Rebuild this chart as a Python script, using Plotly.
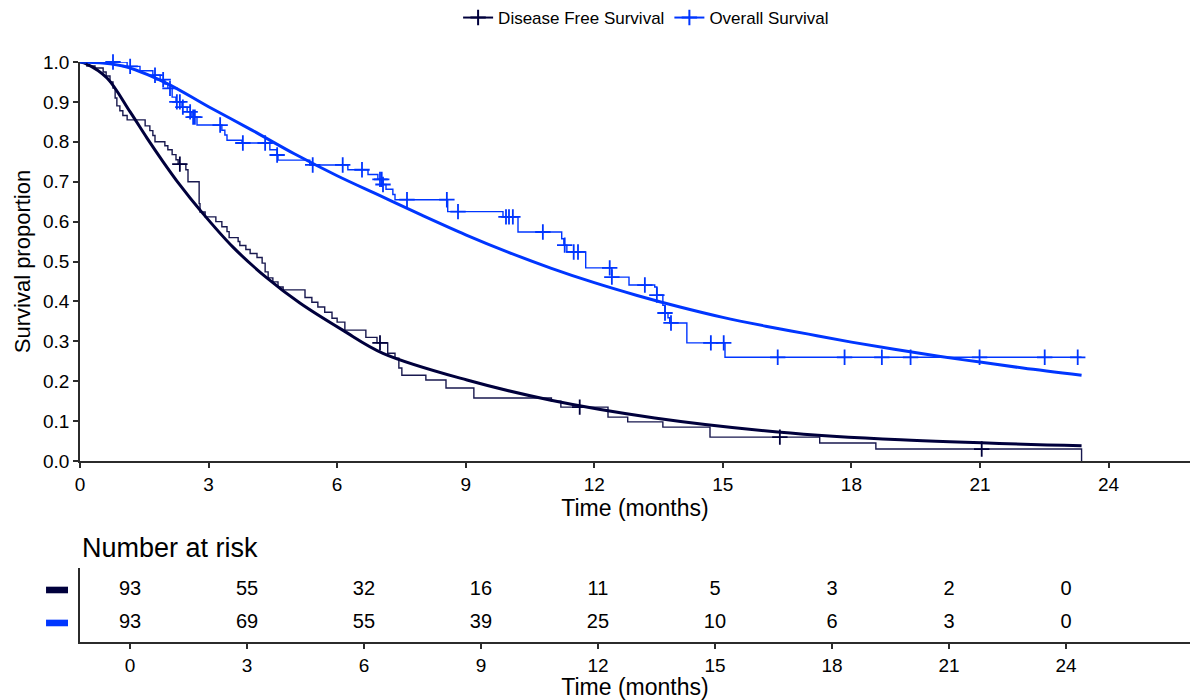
import numpy as np
import plotly.graph_objects as go

# ---------------- data ----------------
dfs_times = [0, 0.16, 0.35, 0.54, 0.61, 0.70, 0.77, 0.82, 0.86, 0.93, 1.00, 1.10,
             1.52, 1.63, 1.70, 1.75, 1.98, 2.05, 2.15, 2.24, 2.29, 2.47, 2.52,
             2.78, 2.80, 2.92, 3.17, 3.31, 3.43, 3.48, 3.69, 3.73, 3.87, 3.97,
             4.13, 4.25, 4.32, 4.39, 4.50, 4.62, 4.74, 5.25, 5.41, 5.55, 5.71,
             5.88, 6.00, 6.18, 6.67, 6.93, 7.18, 7.35, 7.44, 7.51, 8.07, 8.54,
             9.19, 11.00, 11.22, 12.32, 12.78, 13.60, 14.70, 17.26, 18.57, 23.37]
dfs_surv = [1.0, 0.99, 0.985, 0.975, 0.965, 0.95, 0.935, 0.91, 0.89, 0.878, 0.866, 0.855,
            0.84, 0.828, 0.816, 0.80, 0.79, 0.78, 0.768, 0.755, 0.744, 0.73, 0.70,
            0.645, 0.624, 0.612, 0.60, 0.587, 0.575, 0.56, 0.55, 0.54, 0.53, 0.52,
            0.51, 0.496, 0.474, 0.459, 0.449, 0.436, 0.429, 0.41, 0.398, 0.386, 0.373,
            0.358, 0.348, 0.328, 0.31, 0.296, 0.27, 0.258, 0.233, 0.215, 0.203, 0.183,
            0.158, 0.15, 0.135, 0.11, 0.098, 0.085, 0.06, 0.045, 0.03, 0.0]
dfs_censor = [2.33, 7.00, 11.66, 16.33, 21.04]

os_times = [0, 1.10, 1.40, 1.70, 1.87, 1.98, 2.05, 2.15, 2.24, 2.38, 2.50, 2.61, 2.73,
            3.31, 3.38, 3.43, 3.78, 4.43, 4.60, 4.62, 5.36, 6.25, 6.72, 6.95, 7.07,
            7.14, 7.30, 7.35, 8.58, 9.87, 10.22, 11.24, 11.29, 11.36, 11.80, 12.41,
            12.81, 13.41, 13.46, 13.60, 13.65, 13.72, 13.76, 14.16, 15.05, 23.37]
os_surv = [1.0, 0.989, 0.978, 0.967, 0.956, 0.945, 0.934, 0.912, 0.90, 0.887, 0.875, 0.862, 0.842,
           0.829, 0.817, 0.804, 0.797, 0.78, 0.767, 0.754, 0.742, 0.730, 0.718, 0.706, 0.693,
           0.681, 0.668, 0.655, 0.625, 0.612, 0.574, 0.557, 0.541, 0.524, 0.484, 0.461,
           0.441, 0.436, 0.416, 0.39, 0.371, 0.359, 0.346, 0.296, 0.26, 0.26]
os_censor = [0.77, 1.17, 1.75, 1.94, 2.10, 2.26, 2.33, 2.40, 2.57, 2.64, 2.68, 3.27, 3.80,
             4.32, 4.60, 5.43, 6.13, 6.58, 7.00, 7.04, 7.07, 7.63, 8.56, 8.82, 9.94, 10.01,
             10.10, 10.80, 11.31, 11.52, 11.62, 12.36, 12.41, 13.18, 13.46, 13.65, 13.79,
             14.72, 15.02, 16.28, 17.84, 18.71, 19.38, 20.99, 22.51, 23.28]

dfs_fit_t = [0, 0.16, 0.63, 1.17, 1.56, 1.94, 2.33, 2.80, 3.57, 4.36, 5.13, 6.13, 7.07,
             9.03, 10.96, 13.41, 16.28, 19.15, 23.37]
dfs_fit_s = [1.0, 0.995, 0.96, 0.875, 0.81, 0.75, 0.692, 0.629, 0.536, 0.459, 0.396, 0.328,
             0.27, 0.203, 0.153, 0.108, 0.073, 0.053, 0.038]

os_fit_t = [0, 1, 2, 3, 4, 5, 6, 7, 8, 9, 10, 11, 12, 13, 14, 15, 16, 17, 18, 19, 20,
            21, 22, 23.37]
os_fit_s = [1.0, 0.99, 0.948, 0.888, 0.83, 0.77, 0.715, 0.665, 0.615, 0.567, 0.523, 0.483,
            0.447, 0.415, 0.386, 0.36, 0.338, 0.318, 0.298, 0.28, 0.263, 0.248, 0.233, 0.215]

risk_times = [0, 3, 6, 9, 12, 15, 18, 21, 24]
risk_dfs = [93, 55, 32, 16, 11, 5, 3, 2, 0]
risk_os = [93, 69, 55, 39, 25, 10, 6, 3, 0]

x_ticks = [0, 3, 6, 9, 12, 15, 18, 21, 24]
y_ticks = [0.0, 0.1, 0.2, 0.3, 0.4, 0.5, 0.6, 0.7, 0.8, 0.9, 1.0]

# ---------------- styling ----------------
DFS_COL = "#00003c"
OS_COL = "#0036ff"
AX_COL = "#2b2b2b"
FONT = "Liberation Sans, Arial, sans-serif"


def censor_y(times, surv, cens):
    t = np.asarray(times)
    s = np.asarray(surv)
    idx = np.searchsorted(t, np.asarray(cens), side="right") - 1
    return s[idx]


fig = go.Figure()

# fitted curves
fig.add_trace(go.Scatter(x=dfs_fit_t, y=dfs_fit_s, mode="lines",
                         line=dict(color=DFS_COL, width=3, shape="spline"),
                         showlegend=False, cliponaxis=False))
fig.add_trace(go.Scatter(x=os_fit_t, y=os_fit_s, mode="lines",
                         line=dict(color=OS_COL, width=3, shape="spline"),
                         showlegend=False, cliponaxis=False))

# KM step curves
fig.add_trace(go.Scatter(x=dfs_times, y=dfs_surv, mode="lines",
                         line=dict(color=DFS_COL, width=1.4, shape="hv"),
                         opacity=0.9, showlegend=False, cliponaxis=False))
fig.add_trace(go.Scatter(x=os_times, y=os_surv, mode="lines",
                         line=dict(color=OS_COL, width=1.4, shape="hv"),
                         showlegend=False, cliponaxis=False))

# censor marks
fig.add_trace(go.Scatter(x=dfs_censor, y=censor_y(dfs_times, dfs_surv, dfs_censor),
                         mode="markers",
                         marker=dict(symbol="cross-thin", size=11,
                                     line=dict(color=DFS_COL, width=1.8)),
                         showlegend=False, cliponaxis=False))
fig.add_trace(go.Scatter(x=os_censor, y=censor_y(os_times, os_surv, os_censor),
                         mode="markers",
                         marker=dict(symbol="cross-thin", size=11,
                                     line=dict(color=OS_COL, width=1.8)),
                         showlegend=False, cliponaxis=False))

# legend entries
for name, col in [("Disease Free Survival", DFS_COL), ("Overall Survival", OS_COL)]:
    fig.add_trace(go.Scatter(x=[None], y=[None], mode="lines+markers", name=name,
                             line=dict(color=col, width=2),
                             marker=dict(symbol="cross-thin", size=11,
                                         line=dict(color=col, width=2))))

# risk table
fig.add_trace(go.Scatter(x=risk_times, y=[2] * len(risk_times), mode="text",
                         text=[str(v) for v in risk_dfs],
                         textfont=dict(size=20, color="black", family=FONT),
                         xaxis="x2", yaxis="y2", showlegend=False))
fig.add_trace(go.Scatter(x=risk_times, y=[1] * len(risk_times), mode="text",
                         text=[str(v) for v in risk_os],
                         textfont=dict(size=20, color="black", family=FONT),
                         xaxis="x2", yaxis="y2", showlegend=False))

axis_common = dict(showgrid=False, zeroline=False, showline=True, linecolor=AX_COL,
                   linewidth=1.5, ticks="outside", ticklen=5, tickwidth=1.5,
                   tickcolor=AX_COL, automargin=False,
                   tickfont=dict(size=19, color="black", family=FONT))

fig.update_layout(
    width=1192, height=700,
    margin=dict(l=80, r=2, t=0, b=0),
    paper_bgcolor="white", plot_bgcolor="white",
    font=dict(family=FONT, color="black"),
    xaxis=dict(domain=[0, 1], range=[0, 25.9], tickvals=x_ticks, anchor="y",
               title=dict(text="Time (months)", font=dict(size=23), standoff=4),
               **axis_common),
    yaxis=dict(domain=[0.3414, 0.9114], range=[0, 1], tickvals=y_ticks,
               tickformat=".1f", anchor="x",
               title=dict(text="Survival proportion", font=dict(size=22), standoff=6),
               **axis_common),
    xaxis2=dict(domain=[0, 1], range=[-1.282, 27.18], tickvals=risk_times, anchor="y2",
                title=dict(text="Time (months)", font=dict(size=23), standoff=2),
                **axis_common),
    yaxis2=dict(domain=[0.0829, 0.1886], range=[0.424, 2.667], anchor="x2",
                showgrid=False, zeroline=False, showline=True, linecolor=AX_COL,
                linewidth=1.5, ticks="", showticklabels=False, automargin=False),
    legend=dict(orientation="h", x=0.51, xanchor="center", y=1.0, yanchor="top",
                font=dict(size=17, family=FONT), itemwidth=30,
                bgcolor="rgba(0,0,0,0)"),
    annotations=[dict(text="Number at risk", xref="paper", yref="paper",
                      x=0, y=1 - 548 / 700, xanchor="left", yanchor="middle",
                      showarrow=False, font=dict(size=27, family=FONT, color="black"))],
    shapes=[
        dict(type="rect", xref="paper", yref="y2", x0=-0.0306, x1=-0.0108,
             y0=1.9, y1=2.1, fillcolor=DFS_COL, line=dict(width=0)),
        dict(type="rect", xref="paper", yref="y2", x0=-0.0306, x1=-0.0108,
             y0=0.9, y1=1.1, fillcolor=OS_COL, line=dict(width=0)),
    ],
)

fig.write_html("out.html", config={"displayModeBar": False},
               post_script="document.body.style.margin='0';document.body.style.overflow='hidden';")
